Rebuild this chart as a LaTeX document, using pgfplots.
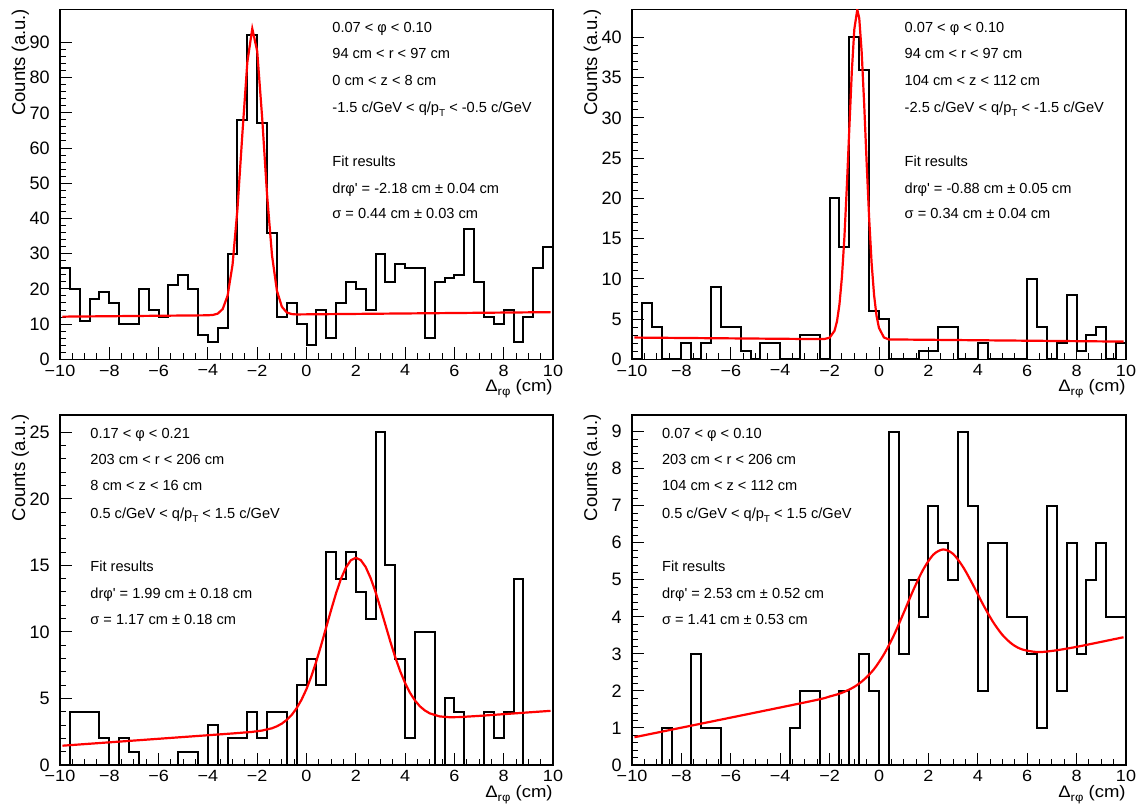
\documentclass[border=0pt]{standalone}
\usepackage{pgfplots}
\pgfplotsset{compat=1.18}
\usepackage{fontspec}
\setmainfont{Liberation Sans}

\pgfplotsset{
  rootaxis/.style={
    scale only axis,
    width=246.5pt, height=175pt,
    xmin=-10, xmax=10, ymin=0,
    axis line style={line width=0.55pt},
    tick align=inside,
    tick pos=left,
    xtick={-10,-8,...,10},
    xticklabels={−10,−8,−6,−4,−2,0,2,4,6,8,10},
    minor x tick num=3,
    minor y tick num=4,
    major tick length=6pt, minor tick length=3pt,
    tick style={black, line width=0.5pt},
    ticklabel style={font=\fontsize{9}{10}\selectfont},
    xticklabel style={yscale=0.9, inner sep=0.5pt, yshift=-2.3pt},
    yticklabel style={inner sep=0.5pt, xshift=-4.5pt},
    /pgf/number format/assume math mode=true,
  },
  histo/.style={black, line width=1pt, const plot mark left, no marks},
  fitc/.style={red, line width=1.1pt, no marks},
}
\newcommand\stat[3]{\node[anchor=base west, inner sep=0pt, font=\fontsize{7.3}{8}\selectfont] at (#1,#2) {#3};}
\newcommand\pT{p\raisebox{-0.6ex}{\fontsize{5}{5}\selectfont T}}
\newcommand\ylab[2]{\node[rotate=90, anchor=base east, inner sep=0pt, font=\fontsize{9.25}{10}\selectfont] at (#1,#2) {Counts (a.u.)};}
\newcommand\xlab[2]{\node[anchor=base east, inner sep=0pt, yscale=0.9, font=\fontsize{9.25}{10}\selectfont] at (#1,#2) {Δ\raisebox{-0.5ex}{\fontsize{6.5}{6.5}\selectfont rφ} (cm)};}

\begin{document}
\begin{tikzpicture}
\useasboundingbox (0,0) rectangle (570pt,404.5pt);

% ---------------- Panel 1 ----------------
\begin{axis}[rootaxis, at={(30pt,224.85pt)}, anchor=south west, ymax=99.4, ytick={0,10,...,90}]
\addplot[histo] table {
x y
-10.0 26
-9.6 20
-9.2 11
-8.8 17
-8.4 19
-8.0 16
-7.6 10
-7.2 10
-6.8 20
-6.4 14
-6.0 12
-5.6 21
-5.2 24
-4.8 20
-4.4 7
-4.0 5
-3.6 9
-3.2 30
-2.8 68
-2.4 92
-2.0 67
-1.6 36
-1.2 12
-0.8 16
-0.4 10
0.0 4
0.4 14
0.8 6
1.2 16
1.6 22
2.0 20
2.4 14
2.8 30
3.2 22
3.6 27
4.0 26
4.4 26
4.8 6
5.2 22
5.6 23
6.0 24
6.4 37
6.8 22
7.2 12
7.6 10
8.0 14
8.4 5
8.8 12
9.2 26
9.6 32
10.0 32
};
\addplot[fitc] coordinates {(-9.9,12.11) (-4.2,12.48) (-4.0,12.51) (-3.8,12.59) (-3.6,12.97) (-3.4,14.27) (-3.2,18.09) (-3.0,26.86) (-2.8,42.77) (-2.6,64.18) (-2.4,84.39) (-2.2,93.91) (-2.0,87.52) (-1.8,68.73) (-1.6,46.75) (-1.4,29.56) (-1.2,19.47) (-1.0,14.92) (-0.8,13.30) (-0.6,12.84) (-0.4,12.74) (9.9,13.39)};
\end{axis}

% ---------------- Panel 2 ----------------
\begin{axis}[rootaxis, width=247pt, at={(316pt,224.85pt)}, anchor=south west, ymax=43.5, ytick={0,5,...,40}]
\addplot[histo] table {
x y
-10.0 0
-9.6 7
-9.2 4
-8.8 0
-8.4 0
-8.0 2
-7.6 0
-7.2 2
-6.8 9
-6.4 4
-6.0 4
-5.6 1
-5.2 0
-4.8 2
-4.4 2
-4.0 0
-3.6 0
-3.2 3
-2.8 3
-2.4 0
-2.0 20
-1.6 14
-1.2 40
-0.8 36
-0.4 6
0.0 5
0.4 0
0.8 0
1.2 0
1.6 1
2.0 1
2.4 4
2.8 4
3.2 0
3.6 0
4.0 2
4.4 0
4.8 0
5.2 0
5.6 0
6.0 10
6.4 4
6.8 0
7.2 2
7.6 8
8.0 1
8.4 3
8.8 4
9.2 0
9.6 2
10.0 2
};
\addplot[fitc] coordinates {(-9.9,2.70) (-2.4,2.51) (-2.2,2.53) (-2.0,2.68) (-1.8,3.55) (-1.7,4.73) (-1.6,6.85) (-1.5,10.26) (-1.4,15.2) (-1.3,21.6) (-1.2,28.8) (-1.1,35.8) (-1.0,41.0) (-0.88,43.45) (-0.8,42.4) (-0.7,38.1) (-0.6,31.7) (-0.5,24.4) (-0.4,17.6) (-0.3,12.0) (-0.2,8.0) (-0.1,5.40) (0.0,3.89) (0.2,2.71) (0.4,2.47) (9.9,2.20)};
\end{axis}

% ---------------- Panel 3 ----------------
\begin{axis}[rootaxis, at={(30pt,22pt)}, anchor=south west, ymax=26.3, ytick={0,5,...,25}]
\addplot[histo] table {
x y
-10.0 0
-9.6 4
-9.2 4
-8.8 4
-8.4 2
-8.0 0
-7.6 2
-7.2 1
-6.8 0
-6.4 0
-6.0 0
-5.6 0
-5.2 1
-4.8 1
-4.4 0
-4.0 3
-3.6 0
-3.2 2
-2.8 2
-2.4 4
-2.0 2
-1.6 4
-1.2 4
-0.8 0
-0.4 6
0.0 8
0.4 6
0.8 16
1.2 14
1.6 16
2.0 13
2.4 11
2.8 25
3.2 15
3.6 8
4.0 2
4.4 10
4.8 10
5.2 0
5.6 5
6.0 4
6.4 0
6.8 0
7.2 4
7.6 2
8.0 4
8.4 14
8.8 0
9.2 0
9.6 0
10.0 0
};
\addplot[fitc] coordinates {(-9.9,1.45) (-3.0,2.37) (-2.2,2.49) (-1.8,2.59) (-1.4,2.76) (-1.2,2.91) (-1.0,3.11) (-0.8,3.39) (-0.6,3.76) (-0.4,4.27) (-0.2,4.91) (0.0,5.71) (0.2,6.68) (0.4,7.80) (0.6,9.04) (0.8,10.35) (1.0,11.66) (1.2,12.91) (1.4,14.0) (1.6,14.84) (1.8,15.39) (2.0,15.57) (2.2,15.40) (2.4,14.88) (2.6,14.05) (2.8,13.01) (3.0,11.80) (3.2,10.54) (3.4,9.28) (3.6,8.10) (3.8,7.05) (4.0,6.16) (4.2,5.42) (4.4,4.85) (4.6,4.41) (4.8,4.10) (5.0,3.88) (5.4,3.65) (5.8,3.59) (6.2,3.60) (7.0,3.69) (9.9,4.07)};
\end{axis}

% ---------------- Panel 4 ----------------
\begin{axis}[rootaxis, width=247pt, at={(316pt,22pt)}, anchor=south west, ymax=9.45, ytick={0,1,...,9}]
\addplot[histo] table {
x y
-10.0 0
-9.6 0
-9.2 0
-8.8 1
-8.4 0
-8.0 0
-7.6 3
-7.2 1
-6.8 1
-6.4 0
-6.0 0
-5.6 0
-5.2 0
-4.8 0
-4.4 0
-4.0 0
-3.6 1
-3.2 2
-2.8 2
-2.4 0
-2.0 0
-1.6 2
-1.2 0
-0.8 3
-0.4 2
0.0 0
0.4 9
0.8 3
1.2 5
1.6 4
2.0 7
2.4 6
2.8 5
3.2 9
3.6 7
4.0 2
4.4 6
4.8 6
5.2 4
5.6 4
6.0 3
6.4 1
6.8 7
7.2 2
7.6 6
8.0 3
8.4 5
8.8 6
9.2 4
9.6 4
10.0 4
};
\addplot[fitc, smooth] coordinates {(-9.9,0.75) (-3.0,1.69) (-2.0,1.85) (-1.5,1.95) (-1.0,2.11) (-0.6,2.31) (-0.2,2.59) (0.2,2.99) (0.6,3.50) (1.0,4.11) (1.4,4.74) (1.8,5.29) (2.2,5.68) (2.6,5.82) (3.0,5.70) (3.4,5.35) (3.8,4.87) (4.2,4.35) (4.6,3.88) (5.0,3.51) (5.4,3.26) (5.8,3.12) (6.4,3.05) (7.0,3.08) (8.0,3.19) (9.9,3.45)};
\end{axis}

% ---------------- axis titles ----------------
\ylab{12.5pt}{400.25pt}
\ylab{298.5pt}{400.25pt}
\ylab{12.5pt}{197.5pt}
\ylab{298.5pt}{197.5pt}
\xlab{276.5pt}{208.8pt}
\xlab{563pt}{208.8pt}
\xlab{276.5pt}{5.8pt}
\xlab{563pt}{5.8pt}

% ---------------- stats text ----------------
\stat{166pt}{388.35pt}{0.07 < φ < 0.10}
\stat{166pt}{375pt}{94 cm < r < 97 cm}
\stat{166pt}{361.65pt}{0 cm < z < 8 cm}
\stat{166pt}{348.35pt}{-1.5 c/GeV < q/\pT{} < -0.5 c/GeV}
\stat{166pt}{321.15pt}{Fit results}
\stat{166pt}{307.85pt}{drφ\textquotesingle{} = -2.18 cm ± 0.04 cm}
\stat{166pt}{295pt}{σ = 0.44 cm ± 0.03 cm}

\stat{452.15pt}{388.35pt}{0.07 < φ < 0.10}
\stat{452.15pt}{375pt}{94 cm < r < 97 cm}
\stat{452.15pt}{361.65pt}{104 cm < z < 112 cm}
\stat{452.15pt}{348.35pt}{-2.5 c/GeV < q/\pT{} < -1.5 c/GeV}
\stat{452.15pt}{321.15pt}{Fit results}
\stat{452.15pt}{307.85pt}{drφ\textquotesingle{} = -0.88 cm ± 0.05 cm}
\stat{452.15pt}{295pt}{σ = 0.34 cm ± 0.04 cm}

\stat{45pt}{185.35pt}{0.17 < φ < 0.21}
\stat{45pt}{172.35pt}{203 cm < r < 206 cm}
\stat{45pt}{159pt}{8 cm < z < 16 cm}
\stat{45pt}{145.35pt}{0.5 c/GeV < q/\pT{} < 1.5 c/GeV}
\stat{45pt}{118.65pt}{Fit results}
\stat{45pt}{105.35pt}{drφ\textquotesingle{} = 1.99 cm ± 0.18 cm}
\stat{45pt}{92.35pt}{σ = 1.17 cm ± 0.18 cm}

\stat{330.85pt}{185.35pt}{0.07 < φ < 0.10}
\stat{330.85pt}{172.35pt}{203 cm < r < 206 cm}
\stat{330.85pt}{159pt}{104 cm < z < 112 cm}
\stat{330.85pt}{145.35pt}{0.5 c/GeV < q/\pT{} < 1.5 c/GeV}
\stat{330.85pt}{118.65pt}{Fit results}
\stat{330.85pt}{105.35pt}{drφ\textquotesingle{} = 2.53 cm ± 0.52 cm}
\stat{330.85pt}{92.35pt}{σ = 1.41 cm ± 0.53 cm}
\end{tikzpicture}
\end{document}
